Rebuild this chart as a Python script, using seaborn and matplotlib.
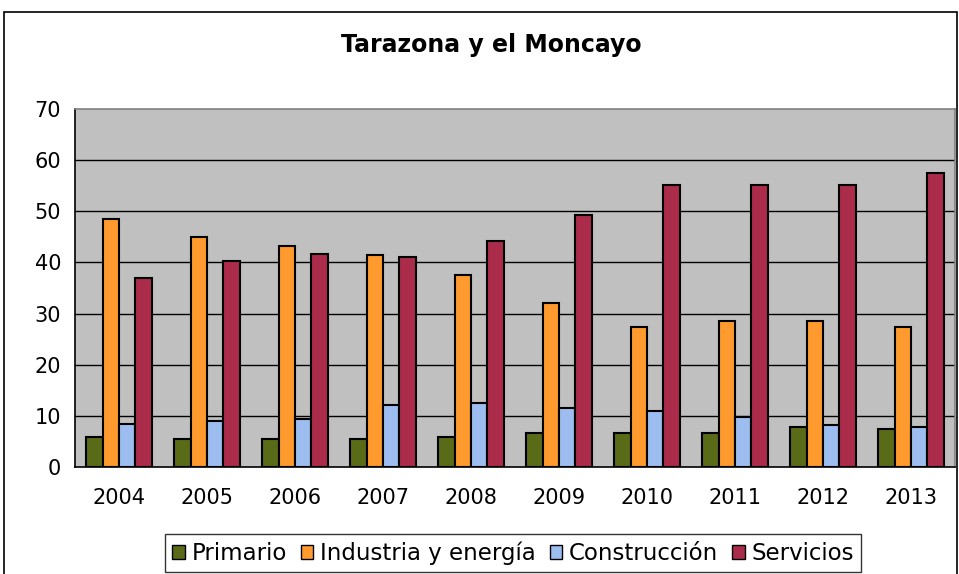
import matplotlib
matplotlib.use("Agg")
import matplotlib.pyplot as plt
import seaborn as sns
import pandas as pd
from matplotlib.patches import Rectangle

years = ["2004", "2005", "2006", "2007", "2008", "2009", "2010", "2011", "2012", "2013"]
primario = [5.8, 5.4, 5.4, 5.4, 5.8, 6.7, 6.7, 6.7, 7.8, 7.4]
industria = [48.5, 45.0, 43.3, 41.4, 37.6, 32.1, 27.3, 28.6, 28.6, 27.3]
construccion = [8.5, 8.9, 9.3, 12.1, 12.5, 11.6, 10.9, 9.7, 8.2, 7.8]
servicios = [37.0, 40.2, 41.7, 41.1, 44.2, 49.3, 55.1, 55.1, 55.1, 57.5]
series_names = ["Primario", "Industria y energía", "Construcción", "Servicios"]
colors = ["#5A6B17", "#FF9A2E", "#9DBDF0", "#AB2B4B"]
title = "Tarazona y el Moncayo"
yticks = [0, 10, 20, 30, 40, 50, 60, 70]

rows = []
for name, vals in zip(series_names, [primario, industria, construccion, servicios]):
    for y, v in zip(years, vals):
        rows.append({"Año": y, "Sector": name, "Valor": v})
df = pd.DataFrame(rows)

sns.set_style("white")
plt.rcParams["font.family"] = ["DejaVu Sans"]
plt.rcParams["text.color"] = "black"
plt.rcParams["xtick.color"] = "black"
plt.rcParams["ytick.color"] = "black"
plt.rcParams["xtick.labelcolor"] = "black"
plt.rcParams["ytick.labelcolor"] = "black"

fig = plt.figure(figsize=(9.59, 5.74), dpi=100)
ax = fig.add_axes([75 / 959, 1 - 467 / 574, (955 - 75) / 959, (467 - 109) / 574])
ax.set_facecolor("#C0C0C0")

sns.barplot(data=df, x="Año", y="Valor", hue="Sector", palette=colors,
            width=0.74, edgecolor="black", linewidth=1.5, saturation=1,
            ax=ax, legend=True, zorder=3)

ax.set_ylim(0, 70)
ax.set_xlim(-0.5, len(years) - 0.5)
ax.set_yticks(yticks)
ax.set_yticklabels([str(t) for t in yticks])
for t in yticks[1:-1]:
    ax.axhline(t, color="black", lw=1.0, zorder=1)

ax.set_xlabel("")
ax.set_ylabel("")
ax.tick_params(axis="x", which="major", length=0, pad=15, labelsize=15, labelcolor="black")
ax.set_xticks([i - 0.5 for i in range(len(years) + 1)], minor=True)
ax.tick_params(axis="x", which="minor", length=6, width=1, color="black", direction="out")
ax.tick_params(axis="y", length=5, width=1, color="black", direction="out", pad=5,
               labelsize=15, labelcolor="black")
ax.grid(False)

for s in ["left", "bottom"]:
    ax.spines[s].set_color("black")
    ax.spines[s].set_linewidth(1.2)
for s in ["top", "right"]:
    ax.spines[s].set_color("#808080")
    ax.spines[s].set_linewidth(1.2)
    ax.spines[s].set_visible(True)

fig.text(0.5 * (342 + 640) / 959, 1 - 45 / 574, title, ha="center", va="center",
         fontsize=17, fontweight="bold", color="black")

handles, labels = ax.get_legend_handles_labels()
ax.legend_.remove()
leg = fig.legend(handles, labels, loc="center", bbox_to_anchor=(513 / 959, 1 - 553 / 574),
                 ncol=4, frameon=True, fancybox=False, fontsize=16.5,
                 handlelength=0.55, handleheight=0.55, handletextpad=0.3,
                 columnspacing=0.6, borderpad=0.3, borderaxespad=0)
leg.get_frame().set_edgecolor("black")
leg.get_frame().set_linewidth(1.0)
for text in leg.get_texts():
    text.set_color("black")
for h in leg.legend_handles:
    h.set_edgecolor("black")
    h.set_linewidth(1.0)

fig.add_artist(Rectangle((4 / 959, -0.05), (957 - 4) / 959, 1.05 - 12 / 574,
                         transform=fig.transFigure, fill=False, edgecolor="black",
                         lw=1.2))

fig.savefig("out.png", dpi=100)
